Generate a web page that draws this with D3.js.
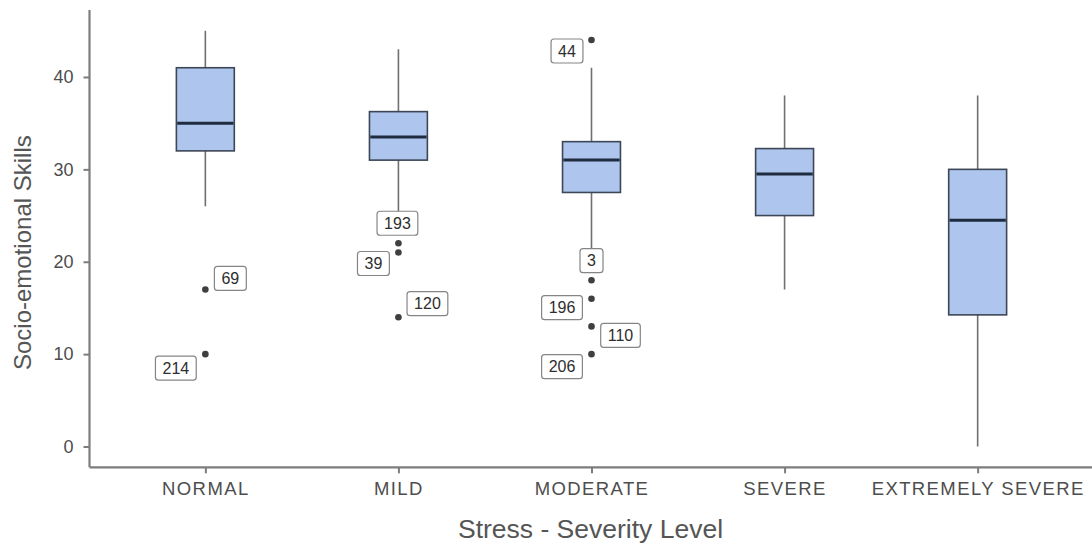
<!DOCTYPE html>
<html>
<head>
<meta charset="utf-8">
<script src="https://cdn.jsdelivr.net/npm/d3@7"></script>
<style>
  html, body { margin: 0; padding: 0; background: #fff; }
  svg { display: block; font-family: "Liberation Sans", Arial, sans-serif; }
</style>
</head>
<body>
<svg id="chart" width="1092" height="547"></svg>
<script>
// ---- data ----
const categories = ["NORMAL", "MILD", "MODERATE", "SEVERE", "EXTREMELY SEVERE"];
const whiskerLow  = [26, 24, 20, 17, 0];
const q1          = [32, 31, 27.5, 25, 14.25];
const median      = [35, 33.5, 31, 29.5, 24.5];
const q3          = [41, 36.25, 33, 32.25, 30];
const whiskerHigh = [45, 43, 41, 38, 38];

const outlierCategory = ["NORMAL", "NORMAL", "MILD", "MILD", "MILD", "MODERATE", "MODERATE", "MODERATE", "MODERATE", "MODERATE"];
const outlierValue    = [17, 10, 22, 21, 14, 44, 18, 16, 13, 10];
const outlierId       = ["69", "214", "193", "39", "120", "44", "3", "196", "110", "206"];
// label nudges (pixels) of the repelled labels
const labelDx = [25, -29.5, -1, -25, 29, -24.5, 0, -29.5, 29, -29.5];
const labelDy = [-11, 14, -20, 11, -13.5, 11, -19.5, 9, 9, 12.5];

const yTicks = [0, 10, 20, 30, 40];

// ---- layout ----
const svg = d3.select("#chart");
const pLeft = 89.5, pRight = 1093.5, pTop = 10, pBottom = 467.3;

const x = d3.scalePoint().domain(categories).range([pLeft, pRight]).padding(0.6);
const y = d3.scaleLinear().domain([-2.25, 47.25]).range([pBottom, pTop]);
const boxW = x.step() * 0.3;

const axisColor = "#7d7d7d";
const textColor = "#4d4d4d";

const boxes = categories.map((c, i) => ({
  c, lo: whiskerLow[i], q1: q1[i], med: median[i], q3: q3[i], hi: whiskerHigh[i]
}));

const g = svg.append("g");
const bg = g.selectAll("g.box").data(boxes).join("g").attr("class", "box");

bg.append("line")
  .attr("x1", d => x(d.c)).attr("x2", d => x(d.c))
  .attr("y1", d => y(d.hi)).attr("y2", d => y(d.q3))
  .attr("stroke", "#707070").attr("stroke-width", 1.6);
bg.append("line")
  .attr("x1", d => x(d.c)).attr("x2", d => x(d.c))
  .attr("y1", d => y(d.q1)).attr("y2", d => y(d.lo))
  .attr("stroke", "#707070").attr("stroke-width", 1.6);

bg.append("rect")
  .attr("x", d => x(d.c) - boxW / 2)
  .attr("width", boxW)
  .attr("y", d => y(d.q3))
  .attr("height", d => y(d.q1) - y(d.q3))
  .attr("fill", "#aec6ee")
  .attr("stroke", "#3c4656")
  .attr("stroke-width", 1.6);

bg.append("line")
  .attr("x1", d => x(d.c) - boxW / 2 + 0.8).attr("x2", d => x(d.c) + boxW / 2 - 0.8)
  .attr("y1", d => y(d.med)).attr("y2", d => y(d.med))
  .attr("stroke", "#1f2b3e").attr("stroke-width", 3);

const outs = outlierValue.map((v, i) => ({
  c: outlierCategory[i], v, id: outlierId[i], dx: labelDx[i], dy: labelDy[i]
}));

g.selectAll("circle.out").data(outs).join("circle")
  .attr("class", "out")
  .attr("cx", d => x(d.c)).attr("cy", d => y(d.v))
  .attr("r", 3.3).attr("fill", "#3f3f3f");

const lg = g.selectAll("g.lab").data(outs).join("g").attr("class", "lab")
  .attr("transform", d => `translate(${x(d.c) + d.dx},${y(d.v) + d.dy})`);
lg.append("rect").attr("class", "lbox");
lg.append("text")
  .attr("text-anchor", "middle")
  .attr("dy", "0.36em")
  .attr("font-size", 16)
  .attr("fill", "#2e2e2e")
  .text(d => d.id);
lg.each(function () {
  const t = d3.select(this).select("text").node().getBBox();
  const w = t.width + 14, h = 24;
  d3.select(this).select("rect")
    .attr("x", -w / 2).attr("y", -h / 2).attr("width", w).attr("height", h)
    .attr("rx", 3).attr("ry", 3)
    .attr("fill", "#fff").attr("stroke", "#858585").attr("stroke-width", 1.2);
});

const yAxis = svg.append("g").attr("transform", `translate(${pLeft},0)`)
  .call(d3.axisLeft(y).tickValues(yTicks).tickSize(6).tickPadding(10));
const xAxis = svg.append("g").attr("transform", `translate(0,${pBottom})`)
  .call(d3.axisBottom(x).tickSize(6).tickPadding(9));

yAxis.select(".domain").attr("d", `M0,${pTop}V${pBottom}`);
xAxis.select(".domain").attr("d", `M${pLeft},0H${pRight}`);

[yAxis, xAxis].forEach(a => {
  a.select(".domain").attr("stroke", axisColor).attr("stroke-width", 2.2);
  a.selectAll(".tick line").attr("stroke", axisColor).attr("stroke-width", 2);
  a.selectAll(".tick text").attr("fill", textColor)
    .attr("font-family", "'Liberation Sans', Arial, sans-serif");
});
yAxis.selectAll(".tick text").attr("font-size", 18);
xAxis.selectAll(".tick text").attr("font-size", 18.5).attr("letter-spacing", "1.4px");

svg.append("text")
  .attr("x", (pLeft + pRight) / 2 - 1)
  .attr("y", 538)
  .attr("text-anchor", "middle")
  .attr("font-size", 26.5)
  .attr("fill", "#555")
  .text("Stress - Severity Level");

svg.append("text")
  .attr("transform", `translate(31,${(pTop + pBottom) / 2 + 14}) rotate(-90)`)
  .attr("text-anchor", "middle")
  .attr("font-size", 24)
  .attr("fill", "#555")
  .text("Socio-emotional Skills");
</script>
</body>
</html>
